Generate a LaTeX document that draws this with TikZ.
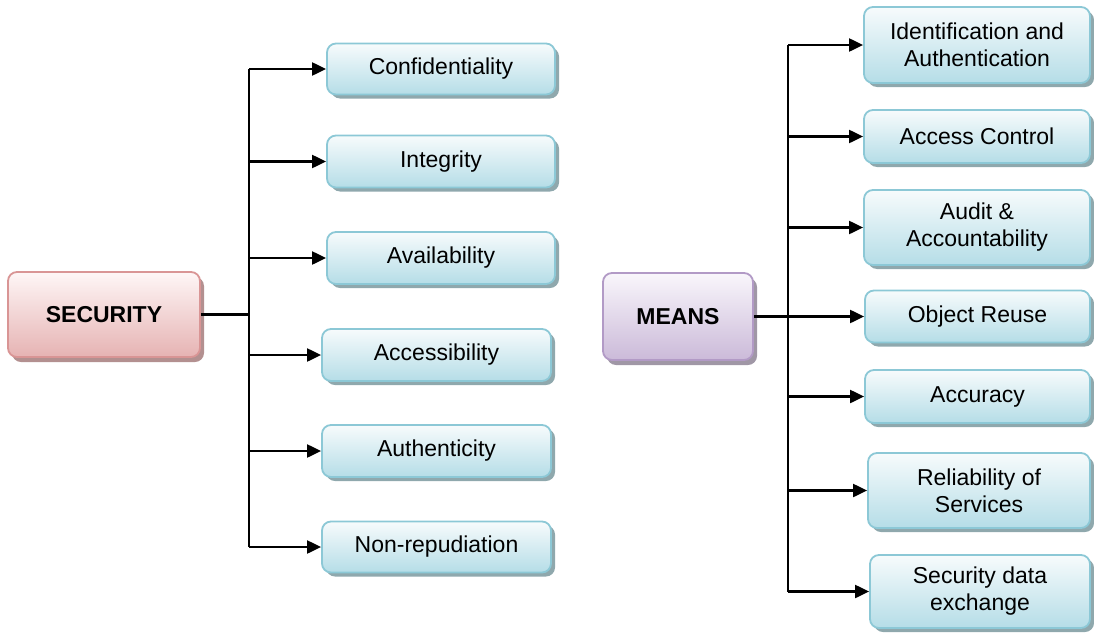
\documentclass[tikz,border=0pt]{standalone}
\usepackage{fontspec}
\setmainfont{Liberation Sans}
\usetikzlibrary{arrows.meta,shadows,calc}
\definecolor{lbord}{HTML}{8CC8D6}
\definecolor{lbot}{HTML}{B5DDE7}
\definecolor{ltop}{HTML}{F7FBFC}
\definecolor{lshad}{HTML}{8FA8AD}
\definecolor{pbord}{HTML}{D99595}
\definecolor{pbot}{HTML}{E6B3B3}
\definecolor{ptop}{HTML}{FEF6F6}
\definecolor{pshad}{HTML}{B39090}
\definecolor{mbord}{HTML}{B29AC6}
\definecolor{mbot}{HTML}{CBBAD9}
\definecolor{mtop}{HTML}{F9F6FB}
\definecolor{mshad}{HTML}{A097A6}
\tikzset{
  box/.style={rounded corners=9pt, line width=1.8pt, align=center, inner sep=0pt,
    font=\fontsize{23}{27}\selectfont},
  leaf/.style={box, draw=lbord, top color=ltop, bottom color=lbot,
    drop shadow={shadow xshift=4pt, shadow yshift=-4pt, fill=lshad, opacity=1}},
  secbox/.style={box, draw=pbord, top color=ptop, bottom color=pbot,
    font=\fontsize{23}{27}\selectfont\bfseries,
    drop shadow={shadow xshift=4pt, shadow yshift=-5pt, fill=pshad, opacity=1}},
  meanbox/.style={box, draw=mbord, top color=mtop, bottom color=mbot,
    font=\fontsize{23}{27}\selectfont\bfseries,
    drop shadow={shadow xshift=4pt, shadow yshift=-5pt, fill=mshad, opacity=1}},
  conn/.style={line width=2.1pt, black},
  arr/.style={conn, -{Triangle[length=14pt,width=13pt]}},
}
\begin{document}
\begin{tikzpicture}[x=1pt,y=-1pt]
\useasboundingbox (0,0) rectangle (1094,637);
% left side
\node[secbox, minimum width=192pt, minimum height=85pt] (sec) at (104,314.5) {SECURITY};
\node[leaf, minimum width=228pt, minimum height=51pt] (conf) at (441,69) {Confidentiality};
\node[leaf, minimum width=228pt, minimum height=52pt] (integ) at (441,161.5) {Integrity};
\node[leaf, minimum width=228pt, minimum height=52pt] (avail) at (441,258) {Availability};
\node[leaf, minimum width=229pt, minimum height=52pt] (access) at (436.5,355) {Accessibility};
\node[leaf, minimum width=229pt, minimum height=52pt] (auth) at (436.5,451) {Authenticity};
\node[leaf, minimum width=229pt, minimum height=51pt] (nonrep) at (436.5,547) {Non-repudiation};
\coordinate (lt) at (249,0);
\draw[conn] (lt |- conf.west) -- (lt |- nonrep.west);
\draw[conn] (sec.east) -- (lt |- sec.east);
\foreach \n in {conf,integ,avail,access,auth,nonrep}
  \draw[arr] (lt |- \n.west) -- (\n.west);
% right side
\node[meanbox, minimum width=150pt, minimum height=87pt] (means) at (678,316.5) {MEANS};
\node[leaf, minimum width=226pt, minimum height=76pt] (ident) at (977,45) {Identification and\\Authentication};
\node[leaf, minimum width=226pt, minimum height=53pt] (acctl) at (977,136.5) {Access Control};
\node[leaf, minimum width=226pt, minimum height=75pt] (audit) at (977,227.5) {Audit \&\\Accountability};
\node[leaf, minimum width=225pt, minimum height=52pt] (objr) at (977.5,316.5) {Object Reuse};
\node[leaf, minimum width=225pt, minimum height=53pt] (accur) at (977.5,396.5) {Accuracy};
\node[leaf, minimum width=222pt, minimum height=75pt] (relia) at (979,490.5) {Reliability of\\Services};
\node[leaf, minimum width=220pt, minimum height=73pt] (sdex) at (980,591.5) {Security data\\exchange};
\coordinate (rt) at (788,0);
\draw[conn] (rt |- ident.west) -- (rt |- sdex.west);
\draw[arr] (means.east) -- (objr.west);
\foreach \n in {ident,acctl,audit,accur,relia,sdex}
  \draw[arr] (rt |- \n.west) -- (\n.west);
\end{tikzpicture}
\end{document}
